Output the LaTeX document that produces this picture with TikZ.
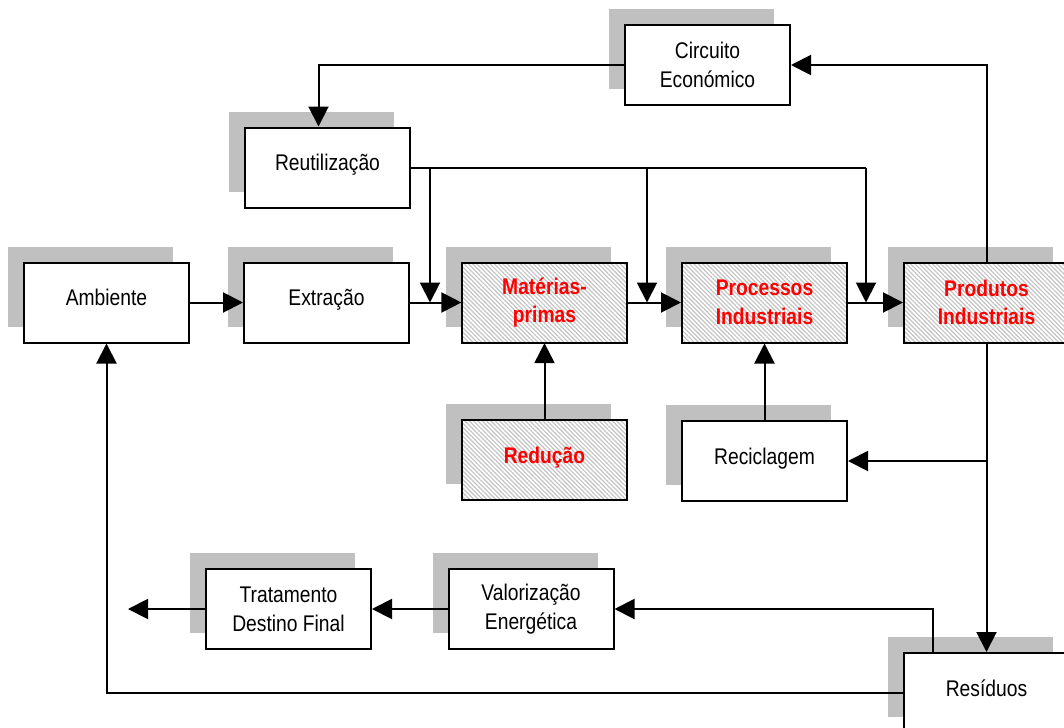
\documentclass[tikz,border=0pt]{standalone}
\usepackage{fontspec}
\setmainfont{Liberation Sans}[FakeStretch=0.85]
\usetikzlibrary{arrows.meta,shadows,patterns.meta,calc}
\definecolor{shadowgray}{RGB}{192,192,192}
\definecolor{hatchgray}{RGB}{196,196,196}
\begin{document}
\begin{tikzpicture}[x=0.75pt,y=-0.75pt,
  box/.style={draw, line width=1.5pt, minimum width=123.75pt, minimum height=60pt,
    inner sep=0pt, align=center, font=\fontsize{17}{21.5}\selectfont,
    general shadow={fill=shadowgray, shadow xshift=-12pt, shadow yshift=12pt}},
  plainbox/.style={box, fill=white},
  hatchbox/.style={box, preaction={fill=white},
    pattern={Lines[angle=-45,distance=2.3pt,line width=0.9pt]}, pattern color=hatchgray,
    text=red, font=\fontsize{17}{21.5}\selectfont\bfseries},
  oneline/.style={text height=12pt, text depth=7.5pt},
  ln/.style={line width=1.5pt},
  arr/.style={line width=1.5pt, -{Triangle[length=15pt,width=15pt]}}]
\useasboundingbox (0,0) rectangle (1064,728);

\node[plainbox,oneline] (amb) at (106.5,302.5) {Ambiente};
\node[plainbox,oneline] (ext) at (326.5,302.5) {Extração};
\node[hatchbox] (mat) at (544.5,302.5) {Matérias-\\primas};
\node[hatchbox] (pro) at (764.5,302.5) {Processos\\Industriais};
\node[hatchbox] (prd) at (986.5,302.5) {Produtos\\Industriais};
\node[plainbox] (cir) at (707.5,65) {Circuito\\Económico};
\node[plainbox,oneline] (reu) at (327.5,167.5) {Reutilização};
\node[hatchbox,oneline] (red) at (544.5,460) {Redução};
\node[plainbox,oneline] (rec) at (764.5,461) {Reciclagem};
\node[plainbox] (tra) at (288.5,609) {Tratamento\\Destino Final};
\node[plainbox] (val) at (531,609) {Valorização\\Energética};
\node[plainbox,oneline] (res) at (986.5,693) {Resíduos};

\draw[arr] (amb.east) -- (ext.west);
\draw[arr] (ext.east) -- (mat.west);
\draw[arr] (mat.east) -- (pro.west);
\draw[arr] (pro.east) -- (prd.west);

\coordinate (j1) at (430,167.5);
\coordinate (j2) at (647,167.5);
\coordinate (j3) at (866,167.5);
\draw[ln] (reu.east) -- (j3);
\draw[arr] (j1) -- (j1 |- mat.west);
\draw[arr] (j2) -- (j2 |- pro.west);
\draw[arr] (j3) -- (j3 |- prd.west);

\draw[arr] (prd.north) |- (cir.east);
\draw[arr] (cir.west) -| ($(reu.north)+(-9,0)$);

\draw[arr] (prd.south) -- (res.north);
\coordinate (b1) at (prd.south |- rec.east);
\draw[arr] (b1) -- (rec.east);

\draw[arr] (red.north) -- (mat.south);
\draw[arr] (rec.north) -- (pro.south);

\coordinate (r1) at ($(res.north west)+(30,0)$);
\draw[arr] (r1) |- (val.east);
\draw[arr] (val.west) -- (tra.east);
\coordinate (out) at (128,609);
\draw[arr] (tra.west) -- (out);
\draw[arr] (res.west) -| (amb.south);
\end{tikzpicture}
\end{document}
